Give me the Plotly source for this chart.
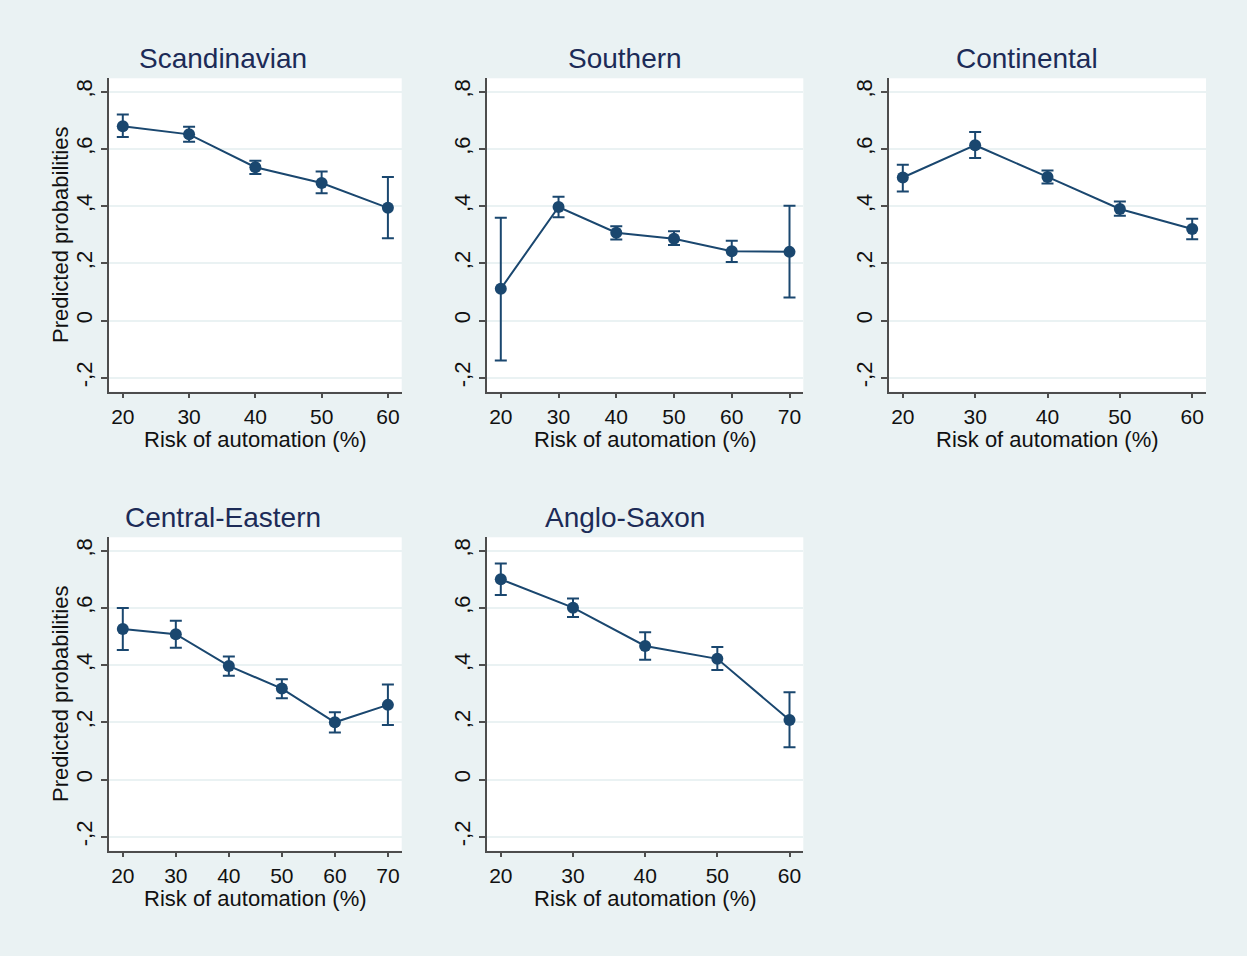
import plotly.graph_objects as go

W, H = 1247, 956

regions = ["Scandinavian", "Southern", "Continental", "Central-Eastern", "Anglo-Saxon"]

x_scandinavian = [20, 30, 40, 50, 60]
y_scandinavian = [0.679, 0.651, 0.536, 0.481, 0.394]
hi_scandinavian = [0.720, 0.678, 0.559, 0.521, 0.502]
lo_scandinavian = [0.642, 0.625, 0.512, 0.445, 0.288]

x_southern = [20, 30, 40, 50, 60, 70]
y_southern = [0.111, 0.397, 0.307, 0.286, 0.242, 0.240]
hi_southern = [0.359, 0.433, 0.330, 0.312, 0.279, 0.401]
lo_southern = [-0.140, 0.361, 0.283, 0.264, 0.205, 0.080]

x_continental = [20, 30, 40, 50, 60]
y_continental = [0.500, 0.613, 0.502, 0.390, 0.320]
hi_continental = [0.545, 0.659, 0.525, 0.416, 0.356]
lo_continental = [0.451, 0.568, 0.479, 0.366, 0.284]

x_central_eastern = [20, 30, 40, 50, 60, 70]
y_central_eastern = [0.526, 0.508, 0.397, 0.318, 0.200, 0.261]
hi_central_eastern = [0.600, 0.555, 0.430, 0.351, 0.235, 0.332]
lo_central_eastern = [0.453, 0.461, 0.363, 0.284, 0.164, 0.191]

x_anglo_saxon = [20, 30, 40, 50, 60]
y_anglo_saxon = [0.700, 0.601, 0.467, 0.422, 0.208]
hi_anglo_saxon = [0.755, 0.633, 0.515, 0.463, 0.305]
lo_anglo_saxon = [0.645, 0.568, 0.419, 0.383, 0.113]

y_tickvals = [-0.2, 0, 0.2, 0.4, 0.6, 0.8]
y_ticktext = ["-,2", "0", ",2", ",4", ",6", ",8"]

x_title = "Risk of automation (%)"
y_title = "Predicted probabilities"

series = [
    (x_scandinavian, y_scandinavian, hi_scandinavian, lo_scandinavian),
    (x_southern, y_southern, hi_southern, lo_southern),
    (x_continental, y_continental, hi_continental, lo_continental),
    (x_central_eastern, y_central_eastern, hi_central_eastern, lo_central_eastern),
    (x_anglo_saxon, y_anglo_saxon, hi_anglo_saxon, lo_anglo_saxon),
]

# layout geometry (pixels)
cols_px = [(109, 401.7), (487, 803.3), (889, 1206)]
rows_px = [(78.3, 391.7), (537.3, 850.7)]
title_x_px = [223, 625, 1027]
title_y_px = [58, 517]
cells = [(0, 0), (0, 1), (0, 2), (1, 0), (1, 1)]

NAVY = "#1a476f"
TITLE_COL = "#1c2b57"
BG = "#eaf2f3"
GRID = "#eaf2f3"
AXIS = "#4d4d4d"
FONT = "Liberation Sans, Arial, Helvetica, sans-serif"

fig = go.Figure()
annotations = []
layout_axes = {}

for i, ((r, c), (xs, ys, his, los)) in enumerate(zip(cells, series)):
    n = i + 1
    xa = "x" if n == 1 else f"x{n}"
    ya = "y" if n == 1 else f"y{n}"
    err_plus = [h - v for h, v in zip(his, ys)]
    err_minus = [v - l for l, v in zip(los, ys)]
    fig.add_trace(go.Scatter(
        x=xs, y=ys, mode="lines+markers",
        line=dict(color=NAVY, width=2),
        marker=dict(color=NAVY, size=12),
        error_y=dict(type="data", symmetric=False, array=err_plus, arrayminus=err_minus,
                     color=NAVY, thickness=2, width=6),
        xaxis=xa, yaxis=ya, showlegend=False,
    ))
    x0p, x1p = cols_px[c]
    y0p, y1p = rows_px[r]
    span = xs[-1] - xs[0]
    plot_w = x1p - x0p
    pad_px = 13.8
    unit = (plot_w - 2 * pad_px) / span
    xr = [xs[0] - pad_px / unit, xs[-1] + pad_px / unit]
    xkey = "xaxis" if n == 1 else f"xaxis{n}"
    ykey = "yaxis" if n == 1 else f"yaxis{n}"
    layout_axes[xkey] = dict(
        domain=[x0p / W, x1p / W], anchor=ya, range=xr,
        tickvals=xs, ticktext=[str(v) for v in xs],
        showgrid=False, zeroline=False, showline=True, linecolor=AXIS, linewidth=1.5,
        ticks="outside", ticklen=5, tickwidth=1.5, tickcolor=AXIS,
        tickfont=dict(family=FONT, size=21, color="#111111"),
        fixedrange=True,
    )
    layout_axes[ykey] = dict(
        domain=[1 - y1p / H, 1 - y0p / H], anchor=xa, range=[-0.249, 0.847],
        tickvals=y_tickvals, ticktext=y_ticktext, tickangle=-90,
        showgrid=True, gridcolor=GRID, gridwidth=1.5, zeroline=False,
        showline=True, linecolor=AXIS, linewidth=1.5,
        ticks="outside", ticklen=6, tickwidth=1.5, tickcolor=AXIS,
        tickfont=dict(family=FONT, size=22, color="#111111"),
        fixedrange=True,
    )
    annotations.append(dict(
        text=regions[i], x=title_x_px[c] / W, y=1 - title_y_px[r] / H,
        xref="paper", yref="paper", xanchor="center", yanchor="middle",
        showarrow=False, font=dict(family=FONT, size=28, color=TITLE_COL),
    ))
    annotations.append(dict(
        text=x_title, x=(x0p + x1p) / 2 / W, y=1 - (y1p + 48) / H,
        xref="paper", yref="paper", xanchor="center", yanchor="middle",
        showarrow=False, font=dict(family=FONT, size=22, color="#111111"),
    ))
    if c == 0:
        annotations.append(dict(
            text=y_title, x=60 / W, y=1 - (y0p + y1p) / 2 / H,
            xref="paper", yref="paper", xanchor="center", yanchor="middle",
            textangle=-90, showarrow=False,
            font=dict(family=FONT, size=22, color="#111111"),
        ))

fig.update_layout(
    width=W, height=H, margin=dict(l=0, r=0, t=0, b=0),
    paper_bgcolor=BG, plot_bgcolor="white",
    font=dict(family=FONT),
    annotations=annotations,
    **layout_axes,
)

fig.write_html("out.html", config={"displayModeBar": False})
